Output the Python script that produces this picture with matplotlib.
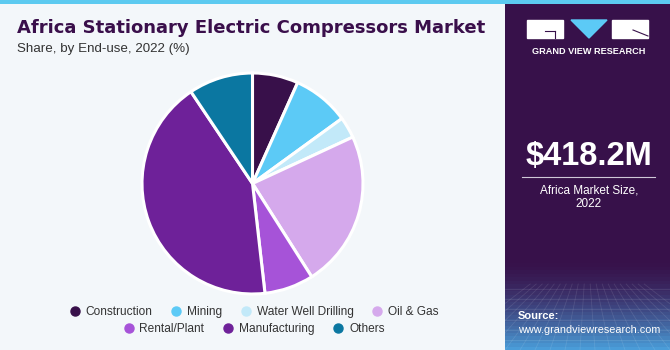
import numpy as np
import matplotlib.pyplot as plt
from matplotlib.patches import Rectangle, Polygon
from matplotlib.lines import Line2D

plt.rcParams["font.family"] = ["Liberation Sans", "DejaVu Sans"]

# Participação por uso final, 2022 (%)
segmentos = ["Construction", "Mining", "Water Well Drilling", "Oil & Gas",
             "Rental/Plant", "Manufacturing", "Others"]
participacao = [6.7, 8.3, 3.1, 22.9, 7.2, 42.4, 9.4]
cores = ["#38104a", "#5ccaf6", "#c2e9f9", "#d5a9ec", "#a653d8", "#6e2199", "#0b77a1"]

titulo = "Africa Stationary Electric Compressors Market"
subtitulo = "Share, by End-use, 2022 (%)"
valor_mercado = "$418.2M"
rotulo_mercado = "Africa Market Size,\n2022"

W, H = 670, 350
fig = plt.figure(figsize=(W / 100, H / 100), dpi=100)
fig.patch.set_facecolor("#f3f7fa")

# faixa azul no topo
fig.add_artist(Rectangle((0, 1 - 4 / H), 1, 4 / H, transform=fig.transFigure,
                         color="#5ccaf0", lw=0))

# painel lateral roxo com degradê na parte de baixo
painel = fig.add_axes([505 / W, 0, 165 / W, 1 - 4 / H])
painel.set_xlim(0, 165)
painel.set_ylim(346, 0)
painel.axis("off")
grad = np.zeros((100, 1, 3))
topo = np.array([0x37, 0x11, 0x4a]) / 255
base = np.array([0x4a, 0x9c, 0xd8]) / 255
for i in range(100):
    t = i / 99
    if t < 0.74:
        grad[i, 0] = topo
    else:
        k = ((t - 0.74) / 0.26) ** 1.6
        grad[i, 0] = topo * (1 - k) + base * k
painel.imshow(grad, aspect="auto", extent=[0, 165, 346, 0], zorder=0)
# grade em perspectiva
for yy in np.linspace(285, 346, 7):
    painel.plot([0, 165], [yy, yy], color="white", alpha=0.1, lw=0.6, zorder=1)
for xx in np.linspace(-60, 225, 20):
    painel.plot([82 + (xx - 82) * 0.4, xx], [280, 346], color="white", alpha=0.1, lw=0.6, zorder=1)

# logotipo
painel.add_patch(Rectangle((22, 16), 36, 18, color="white", zorder=2))
painel.add_patch(Rectangle((107, 16), 36, 18, color="white", zorder=2))
painel.add_patch(Polygon([[66, 16], [102, 16], [84, 34]], closed=True, color="#5ccaf6", zorder=2))
painel.plot([40, 50], [27, 27], color="#37114a", lw=0.8, zorder=3)
painel.plot([50, 50], [27, 34], color="#37114a", lw=0.8, zorder=3)
painel.plot([128, 143], [26, 32], color="#37114a", lw=0.8, zorder=3)
painel.text(84, 48, "GRAND VIEW RESEARCH", color="white", fontsize=6.6, fontweight="bold",
            ha="center", va="center", zorder=3)

painel.text(84, 153, valor_mercado, color="white", fontsize=23.5, fontweight="bold",
            ha="center", va="center", zorder=3)
painel.plot([17, 150], [173, 173], color="#cfc8d8", lw=0.8, zorder=3)
painel.text(84, 193, rotulo_mercado, color="white", fontsize=8.5, ha="center", va="center",
            linespacing=1.15, zorder=3)
painel.text(13, 312, "Source:", color="white", fontsize=8, fontweight="bold",
            ha="left", va="center", zorder=3)
painel.text(13, 326, "www.grandviewresearch.com", color="white", fontsize=7.8,
            ha="left", va="center", zorder=3)

# títulos
fig.text(17 / W, 1 - 28 / H, titulo, fontsize=13, fontweight="heavy", color="#3a0f4b",
         ha="left", va="center", family="DejaVu Sans")
fig.text(17 / W, 1 - 49 / H, subtitulo, fontsize=9.6, color="#333333", ha="left", va="center")

# gráfico de pizza
cx, cy, r = 252.5, 183.5, 110.5
ax = fig.add_axes([(cx - r) / W, (H - cy - r) / H, 2 * r / W, 2 * r / H])
ax.pie(participacao, colors=cores, startangle=90, counterclock=False,
       wedgeprops=dict(edgecolor="white", linewidth=2.2))
ax.set_xlim(-1, 1)
ax.set_ylim(-1, 1)
ax.set_aspect("equal")

# legenda em duas linhas
def alca(c):
    return Line2D([], [], marker="o", color="none", markerfacecolor=c,
                  markeredgecolor=c, markersize=6.5)

leg1 = fig.legend([alca(c) for c in cores[:4]], segmentos[:4], ncol=4,
                  loc="center", bbox_to_anchor=(253 / W, 1 - 312 / H), frameon=False,
                  fontsize=8.6, handletextpad=0.3, columnspacing=1.4, handlelength=1.2)
leg2 = fig.legend([alca(c) for c in cores[4:]], segmentos[4:], ncol=3,
                  loc="center", bbox_to_anchor=(253 / W, 1 - 329 / H), frameon=False,
                  fontsize=8.6, handletextpad=0.3, columnspacing=1.4, handlelength=1.2)
for leg in (leg1, leg2):
    for t in leg.get_texts():
        t.set_color("#333333")

plt.savefig("out.png", dpi=100, facecolor=fig.get_facecolor())
